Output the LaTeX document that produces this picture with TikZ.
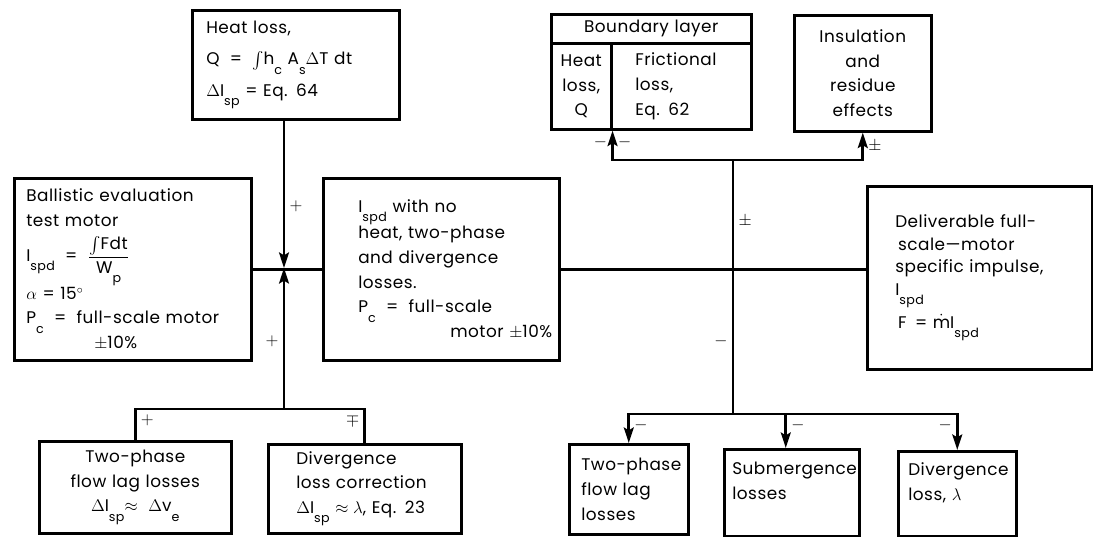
\documentclass[tikz,border=0pt]{standalone}
\usepackage{amsmath}
\usepackage{fontspec}
\setmainfont{Poppins}[LetterSpace=3]
\usetikzlibrary{positioning,arrows.meta}
\newcommand{\lo}[1]{\raisebox{-0.55em}{\small #1}}
\tikzset{
every node/.style={font=\fontsize{12}{17.5}\selectfont}
, box/.style n args={3}{draw, line width=1.8pt, anchor=north west, align=left,
  inner ysep=0pt, inner xsep={#3*0.025cm}, text width={(#1-2*#3)*0.025cm},
  minimum height={#2*0.025cm}}
, wire/.style={line width=2pt}
, feed/.style={wire, -{Stealth[length=11pt,width=7pt,inset=2pt]}}
, sign/.style={font=\fontsize{12}{14}\selectfont, inner sep=3pt}}

\begin{document}
\begin{tikzpicture}[x=0.025cm, y=-0.025cm]
\useasboundingbox (0,0) rectangle (1093,537);
% left half
\node[box={237}{182}{12}] (ballistic) at (13,177) {Ballistic evaluation\\
  test motor\\[6pt]
  I\lo{spd} \;=\; $\dfrac{\text{$\int$Fdt}}{\text{W\lo{p}}}$\\
  $\alpha$ = 15$^{\circ}$\\
  P\lo{c} \;=\; full-scale motor\\
  \hspace*{1.7cm}$\pm$10\%};
\node[box={207}{109}{14}] (heat) at (191,9) {Heat loss,\\[5pt]
  Q \;=\; $\int$h\lo{c} A\lo{s}$\Delta$T dt\\[5pt]
  $\Delta$I\lo{sp} = Eq. 64};
\node[box={236}{182}{35}] (core) at (322,177) {I\lo{spd} with no\\
  heat, two-phase\\
  and divergence\\
  losses.\\
  P\lo{c} \;=\; full-scale\\
  \hspace*{2.3cm}\rlap{motor $\pm$10\%}};
\node[box={192}{92}{8}, align=center] (tpL) at (38,440) {Two-phase\\
  \mbox{flow lag losses}\\
  $\Delta$I\lo{sp}$\approx\Delta$v\lo{e}};
\node[box={193}{89}{28}] (divL) at (267,443) {Divergence\\
  \mbox{loss correction}\\
  \mbox{$\Delta$I\lo{sp} $\approx\lambda$, Eq. 23}};
\coordinate (jL) at (284,268);
\coordinate (bL) at (284,409);
\draw[wire] (ballistic.east) -- (core.west);
\draw[feed] (heat.south -| jL) -- node[sign, right, pos=0.58] {$+$} (jL);
\draw[feed] (bL) -- node[sign, left, pos=0.48] {$+$} (jL);
\draw[wire] (tpL.north) |- node[sign, pos=0.5, below right] {$+$} (bL)
  -| node[sign, pos=0.5, below left] {$\mp$} (divL.north);
% right half
\node[box={200}{29}{4}, align=center] (blayer) at (550,13) {Boundary layer};
\node[box={60}{86}{0}, align=center] (bheat) at (550,42) {Heat\\loss,\\Q};
\node[box={140}{86}{24}] (bfric) at (610,42) {Frictional\\loss,\\Eq. 62};
\node[box={137}{116}{8}, align=center] (insul) at (793,14) {Insulation\\
  and\\residue\\effects};
\node[box={225}{183}{28}, font=\fontsize{12}{16}\selectfont] (deliv) at (866,185)
  {Deliverable full-\\
  \,scale---motor\\
  specific impulse,\\
  I\lo{spd}\\[4pt]
  \,F \,= $\dot{\text{m}}$I\lo{spd}};
\node[box={119}{90}{12}] (tpR) at (568,443) {\mbox{Two-phase}\\flow lag\\losses};
\node[box={135}{87}{8}] (sub) at (723,448) {\mbox{Submergence}\\losses\\\mbox{}};
\node[box={118}{85}{10}] (divR) at (897,450) {\mbox{Divergence}\\loss, $\lambda$\\\mbox{}};
\coordinate (jR) at (733,268);
\coordinate (tR) at (733,160);
\coordinate (bR) at (733,414);
\draw[wire] (core.east) -- (core.east -| deliv.west);
\draw[wire] (jR) -- node[sign, right, pos=0.43] {$\pm$} (tR);
\draw[feed] (tR) -| node[sign, pos=0.8, left] {$-$}
  node[sign, pos=0.8, right] {$-$} (bheat.south east);
\draw[feed] (tR) -| node[sign, pos=0.75, right] {$\pm$} (insul.south);
\draw[wire] (jR) -- node[sign, left, pos=0.5] {$-$} (bR);
\draw[feed] (bR) -| node[sign, pos=0.5, below right] {$-$} (tpR.north);
\draw[feed] (bR) -| node[sign, pos=0.5, below right] {$-$} ([xshift=-0.15cm]sub.north);
\draw[feed] (bR) -| node[sign, pos=0.5, below left] {$-$} (divR.north);
\end{tikzpicture}
\end{document}
